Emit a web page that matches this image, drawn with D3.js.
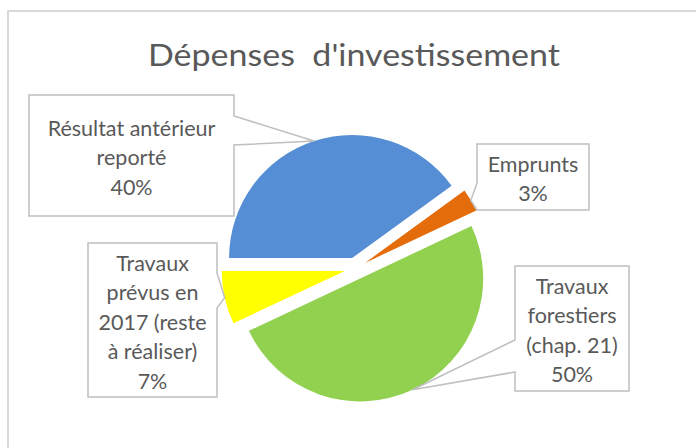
<!DOCTYPE html>
<html>
<head>
<meta charset="utf-8">
<script src="https://cdn.jsdelivr.net/npm/d3@7"></script>
<style>
  body { margin: 0; background: #fff; }
  text { font-family: Lato, "Open Sans", sans-serif; fill: #595959; }
</style>
</head>
<body>
<div class="chart"></div>
<script>
// data
const categories = ['Résultat antérieur reporté', 'Emprunts', 'Travaux forestiers (chap. 21)', 'Travaux prévus en 2017 (reste à réaliser)']
const values = [40, 3, 50, 7]
const nameLines = [
  ['Résultat antérieur', 'reporté'],
  ['Emprunts'],
  ['Travaux', 'forestiers', '(chap. 21)'],
  ['Travaux', 'prévus en', '2017 (reste', 'à réaliser)']
]
const colors = ['#558ED5', '#E46C0A', '#92D050', '#FFFF00']

// label boxes (layout only)
const boxes = [
  {x: 29, y: 95, w: 205, h: 121, side: 'right', n0: 116, n1: 145},
  {x: 477, y: 144, w: 112, h: 66, side: 'left', n0: 183, n1: 210},
  {x: 515, y: 266, w: 114, h: 125, side: 'left', n0: 340, n1: 372},
  {x: 88, y: 243, w: 129, h: 154, side: 'right', n0: 273, n1: 308}
]

const width = 696
const height = 448
const cx = 355.5, cy = 268.5
const R = 123
const explode = 11

const svg = d3.select('.chart')
  .append('svg')
  .attr('width', width)
  .attr('height', height)

// chart area border
svg.append('rect')
  .attr('x', 8).attr('y', 11)
  .attr('width', 720).attr('height', 460)
  .attr('fill', '#fff')
  .attr('stroke', '#d9d9d9')
  .attr('stroke-width', 2)

svg.append('text')
  .attr('x', 354)
  .attr('y', 66)
  .attr('text-anchor', 'middle')
  .attr('font-size', 30)
  .attr('textLength', 412)
  .attr('lengthAdjust', 'spacingAndGlyphs')
  .style('white-space', 'pre')
  .text('Dépenses  d\'investissement')

const total = d3.sum(values)
const pct = d3.format('.0%')

const pie = d3.pie()
  .sort(null)
  .startAngle(-Math.PI / 2)
  .endAngle(3 * Math.PI / 2)

const arcs = pie(values).map((a, i) => {
  const mid = (a.startAngle + a.endAngle) / 2
  return {...a, i: i, mid: mid,
    dx: Math.sin(mid) * explode, dy: -Math.cos(mid) * explode}
})

const arc = d3.arc().innerRadius(0).outerRadius(R)

svg.selectAll('.slice')
  .data(arcs)
  .enter()
  .append('path')
  .attr('class', 'slice')
  .attr('transform', d => `translate(${cx + d.dx},${cy + d.dy})`)
  .attr('d', arc)
  .attr('fill', (d, i) => colors[i])

// callout boxes with leader notch
function calloutPath(b, tip) {
  const p = d3.path()
  if (b.side === 'right') {
    p.moveTo(b.x, b.y)
    p.lineTo(b.x + b.w, b.y)
    p.lineTo(b.x + b.w, b.n0)
    p.lineTo(tip[0], tip[1])
    p.lineTo(b.x + b.w, b.n1)
    p.lineTo(b.x + b.w, b.y + b.h)
    p.lineTo(b.x, b.y + b.h)
  } else {
    p.moveTo(b.x, b.y)
    p.lineTo(b.x + b.w, b.y)
    p.lineTo(b.x + b.w, b.y + b.h)
    p.lineTo(b.x, b.y + b.h)
    p.lineTo(b.x, b.n1)
    p.lineTo(tip[0], tip[1])
    p.lineTo(b.x, b.n0)
  }
  p.closePath()
  return p.toString()
}

const labels = svg.selectAll('.label')
  .data(arcs)
  .enter()
  .append('g')
  .attr('class', 'label')

labels.append('path')
  .attr('d', d => {
    const tip = [cx + d.dx + Math.sin(d.mid) * R, cy + d.dy - Math.cos(d.mid) * R]
    return calloutPath(boxes[d.i], tip)
  })
  .attr('fill', '#fff')
  .attr('stroke', '#bfbfbf')
  .attr('stroke-width', 1.5)

const lineH = 29.5
labels.each(function(d) {
  const b = boxes[d.i]
  const lines = nameLines[d.i].concat([pct(d.value / total)])
  const top = b.y + b.h / 2 + 2 - (lines.length - 1) * lineH / 2
  d3.select(this).selectAll('text')
    .data(lines)
    .enter()
    .append('text')
    .attr('x', b.x + b.w / 2)
    .attr('y', (t, j) => top + j * lineH + 7.5)
    .attr('text-anchor', 'middle')
    .attr('font-size', 21.5)
    .text(t => t)
})
</script>
</body>
</html>
